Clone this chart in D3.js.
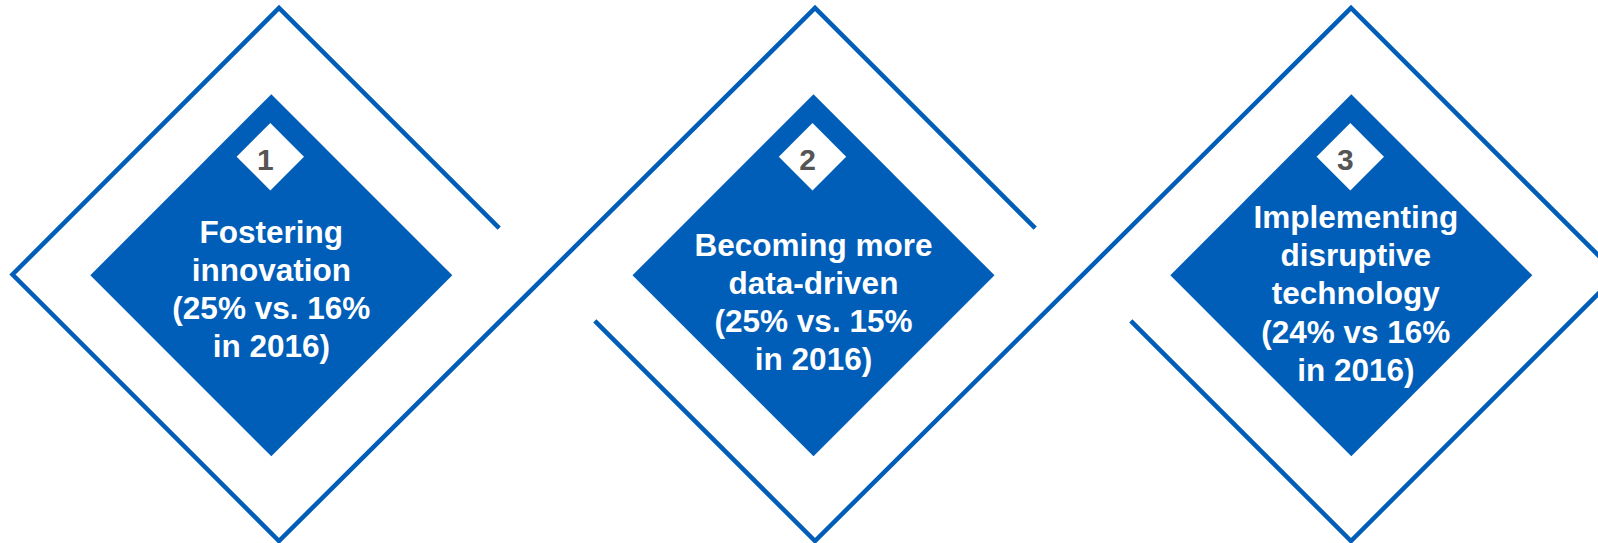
<!DOCTYPE html>
<html>
<head>
<meta charset="utf-8">
<script src="https://cdn.jsdelivr.net/npm/d3@7/dist/d3.min.js"></script>
<style>
  html, body { margin: 0; padding: 0; background: #ffffff; }
  svg { display: block; }
</style>
</head>
<body>
<svg id="chart"></svg>
<script>
// ---- data -------------------------------------------------------------
const ranks = ["1", "2", "3"];
const themes = [
  ["Fostering", "innovation"],
  ["Becoming more", "data-driven"],
  ["Implementing", "disruptive", "technology"]
];
const shareNow = [25, 25, 24];
const share2016 = [16, 15, 16];
const vsWord = ["vs.", "vs.", "vs"];

// ---- layout -------------------------------------------------------------
const W = 1598, H = 543;
const BLUE = "#005EB8";
const FONT = "'Liberation Sans', Arial, Helvetica, sans-serif";

const frameY = 274.5, frameR = 266.5, frameGap = 46.3;   // outer outline frames
const innerY = 275.3, innerR = 181;                        // filled diamonds
const innerNudge = [-8.7, -1.5, 0.3];
const badgeY = 156.7, badgeR = 33.7;                        // white rank badges
const textNudge = [0, 0, 4.5];
const firstBaseline = [242.5, 255.5, 228];
const lineStep = 38.2;

const svg = d3.select("#chart").attr("width", W).attr("height", H);
svg.append("rect").attr("width", W).attr("height", H).attr("fill", "#ffffff");

// panel centres along the row
const x = d3.scalePoint().domain(ranks).range([279, 1351]);

// ---- interlocking outline frames ----------------------------------------
const fr = ranks.map(r => {
  const cx = x(r), cy = frameY, R = frameR;
  return {
    top: [cx, cy - R], bottom: [cx, cy + R],
    left: [cx - R, cy], right: [cx + R, cy],
    breakUR: [cx + R - frameGap, cy - frameGap],   // end of cut upper-right edge
    startLL: [cx - R + frameGap, cy + frameGap]    // start of cut lower-left edge
  };
});

const chains = [
  [fr[0].breakUR, fr[0].top, fr[0].left, fr[0].bottom, fr[1].top, fr[1].breakUR],
  [fr[1].startLL, fr[1].bottom, fr[2].top, fr[2].right, fr[2].bottom, fr[2].startLL]
];

svg.append("g")
  .selectAll("path")
  .data(chains)
  .join("path")
  .attr("d", d3.line())
  .attr("fill", "none")
  .attr("stroke", BLUE)
  .attr("stroke-width", 4.5)
  .attr("stroke-linejoin", "miter");

// ---- panels ---------------------------------------------------------------
const diamond = (cx, cy, r) => d3.line()([[cx, cy - r], [cx + r, cy], [cx, cy + r], [cx - r, cy]]) + "Z";

const panels = svg.append("g")
  .selectAll("g")
  .data(ranks.map((r, i) => ({
    rank: r,
    i,
    cx: x(r) + innerNudge[i] + (i === 0 ? 1 : 0),
    lines: themes[i].concat([`(${shareNow[i]}% ${vsWord[i]} ${share2016[i]}%`, "in 2016)"])
  })))
  .join("g");

panels.append("path")
  .attr("d", d => diamond(d.cx, innerY, innerR))
  .attr("fill", BLUE);

panels.append("path")
  .attr("d", d => diamond(d.cx - 1, badgeY, badgeR))
  .attr("fill", "#ffffff");

panels.append("text")
  .attr("x", d => d.cx - 6)
  .attr("y", 169.5)
  .attr("text-anchor", "middle")
  .attr("font-family", FONT)
  .attr("font-weight", "bold")
  .attr("font-size", 30)
  .attr("fill", "#555555")
  .text(d => d.rank);

panels.append("text")
  .attr("text-anchor", "middle")
  .attr("font-family", FONT)
  .attr("font-weight", "bold")
  .attr("font-size", 31.5)
  .attr("fill", "#ffffff")
  .selectAll("tspan")
  .data(d => d.lines.map((t, k) => ({ t, k, d })))
  .join("tspan")
  .attr("x", o => o.d.cx + textNudge[o.d.i])
  .attr("y", o => firstBaseline[o.d.i] + o.k * lineStep)
  .text(o => o.t);
</script>
</body>
</html>
